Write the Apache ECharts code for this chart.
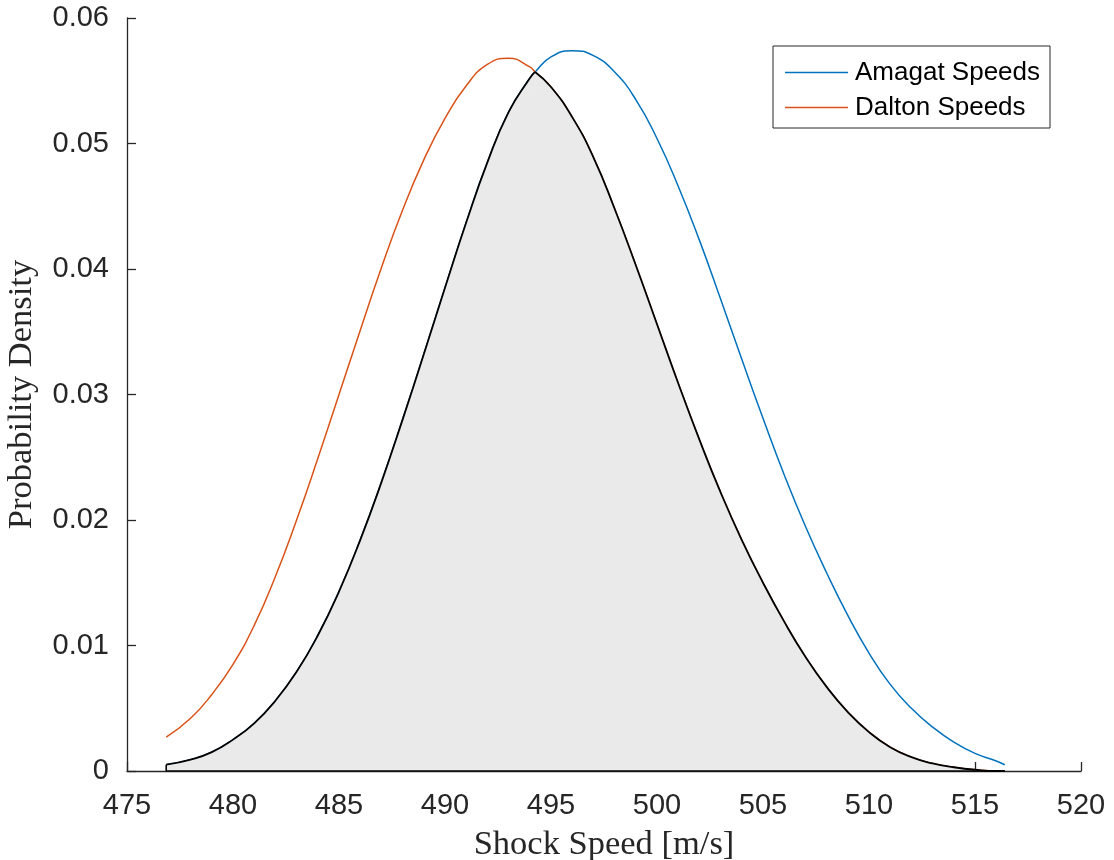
<!DOCTYPE html>
<html>
<head>
<meta charset="utf-8">
<title>Shock Speed Distributions</title>
<script src="https://cdn.jsdelivr.net/npm/echarts/dist/echarts.min.js"></script>
<style>
  html, body { margin: 0; padding: 0; background: #ffffff; }
  #chart { width: 1114px; height: 860px; }
</style>
</head>
<body>
<div id="chart"></div>
<script>
// Shock speed grid [m/s]
const speeds = [476.85, 478, 479, 480, 481, 482, 483, 484, 485, 486, 487, 488, 489, 490,
  491, 492, 493, 494, 494.25, 495, 496, 497, 498, 499, 500, 501, 502, 503, 504, 505,
  506, 507, 508, 509, 510, 511, 512, 513, 514, 515, 516, 516.4];

// Probability density of the Amagat-model shock speeds
const amagat = [0.0005, 0.0009, 0.0015, 0.0025, 0.0038, 0.0056, 0.0079, 0.0108, 0.0143,
  0.0184, 0.0230, 0.0280, 0.0332, 0.0385, 0.0437, 0.0485, 0.0525, 0.0552, 0.0557,
  0.0569, 0.0574, 0.0570, 0.0557, 0.0535, 0.0504, 0.0466, 0.0423, 0.0376, 0.0328,
  0.0281, 0.0236, 0.0195, 0.0158, 0.0124, 0.0094, 0.0069, 0.0050, 0.0035, 0.0023,
  0.0014, 0.0008, 0.0005];

// Probability density of the Dalton-model shock speeds
const dalton = [0.0027, 0.0042, 0.0061, 0.0085, 0.0116, 0.0155, 0.0200, 0.0249, 0.0300,
  0.0351, 0.0401, 0.0447, 0.0487, 0.0520, 0.0546, 0.0563, 0.0568, 0.0561, 0.0557,
  0.0545, 0.0521, 0.0489, 0.0448, 0.0403, 0.0356, 0.0309, 0.0264, 0.0222, 0.0184,
  0.0150, 0.0119, 0.0091, 0.0067, 0.0047, 0.0031, 0.0019, 0.0011, 0.0006, 0.0003,
  0.0001, 0.0000, 0.0000];

const seriesNames = ['Amagat Speeds', 'Dalton Speeds'];
const xTicks = [475, 480, 485, 490, 495, 500, 505, 510, 515, 520];
const yTicks = [0, 0.01, 0.02, 0.03, 0.04, 0.05, 0.06];

// Overlap of the two densities (pointwise minimum), split where the curves cross
const overlap = speeds.map((x, i) => [x, Math.min(amagat[i], dalton[i])]);
let cross = speeds.findIndex((x, i) => i > 0 && dalton[i] <= amagat[i]);
if (cross < 0) cross = speeds.length - 1;
const overlapLeft = overlap.slice(0, cross + 1);
const overlapRight = overlap.slice(cross);
const first = speeds[0], last = speeds[speeds.length - 1];
const overlapEdge = [[first, overlap[0][1]], [first, 0], [last, 0]];
const seam = [[speeds[cross], 0], [speeds[cross], overlap[cross][1] * 0.97]];

const pairs = arr => speeds.map((x, i) => [x, arr[i]]);

const AXIS = '#262626';
const FILL = '#EAEAEA';
const SANS = '"Liberation Sans", Arial, Helvetica, sans-serif';
const SERIF = '"Liberation Serif", "Times New Roman", serif';

const chart = echarts.init(document.getElementById('chart'), null, { renderer: 'canvas' });

const base = {
  type: 'line',
  smooth: 0.5,
  showSymbol: false,
  symbol: 'none',
  silent: true
};

// grey fill of the overlap region (no outline)
const fillSeries = data => Object.assign({}, base, {
  data: data,
  z: 3,
  lineStyle: { width: 0, opacity: 0 },
  areaStyle: { color: FILL, opacity: 1, origin: 'start' }
});

// black outline of the overlap region
const outlineSeries = data => Object.assign({}, base, {
  data: data,
  z: 5,
  lineStyle: { color: '#000000', width: 1.8 }
});

chart.setOption({
  animation: false,
  backgroundColor: '#ffffff',
  grid: { left: 127, right: 33, top: 18, bottom: 89, containLabel: false, outerBoundsMode: 'none' },
  xAxis: {
    type: 'value',
    min: xTicks[0],
    max: xTicks[xTicks.length - 1],
    interval: 5,
    name: 'Shock Speed [m/s]',
    nameLocation: 'middle',
    nameGap: 56,
    nameTextStyle: { fontFamily: SERIF, fontSize: 34.5, color: AXIS },
    axisLine: { show: true, onZero: false, lineStyle: { color: AXIS, width: 1.3 } },
    axisTick: { show: true, inside: true, length: 9, lineStyle: { color: AXIS, width: 1.3 } },
    axisLabel: { fontFamily: SANS, fontSize: 29, color: AXIS, margin: 20 },
    splitLine: { show: false }
  },
  yAxis: {
    type: 'value',
    min: yTicks[0],
    max: yTicks[yTicks.length - 1],
    interval: 0.01,
    name: 'Probability Density',
    nameLocation: 'middle',
    nameRotate: 90,
    nameGap: 88,
    nameTextStyle: { fontFamily: SERIF, fontSize: 34.5, color: AXIS },
    axisLine: { show: true, lineStyle: { color: AXIS, width: 1.3 } },
    axisTick: { show: true, inside: true, length: 9, lineStyle: { color: AXIS, width: 1.3 } },
    axisLabel: {
      fontFamily: SANS, fontSize: 29, color: AXIS, margin: 18,
      formatter: v => (v === 0 ? '0' : v.toFixed(2))
    },
    splitLine: { show: false }
  },
  legend: {
    orient: 'vertical',
    left: 773,
    top: 46,
    data: seriesNames,
    icon: 'rect',
    itemWidth: 63,
    itemHeight: 1.6,
    itemGap: 6,
    padding: [12, 10, 6, 12],
    backgroundColor: '#ffffff',
    borderColor: AXIS,
    borderWidth: 1,
    borderRadius: 0,
    textStyle: { fontFamily: SANS, fontSize: 26, color: '#000000', lineHeight: 29, padding: [0, 0, 0, 2] }
  },
  series: [
    Object.assign({}, base, {
      name: seriesNames[0],
      data: pairs(amagat),
      silent: false,
      z: 2,
      color: '#0072BD',
      lineStyle: { color: '#0072BD', width: 1.5 }
    }),
    Object.assign({}, base, {
      name: seriesNames[1],
      data: pairs(dalton),
      silent: false,
      z: 2,
      color: '#D95319',
      lineStyle: { color: '#D95319', width: 1.5 }
    }),
    fillSeries(overlapLeft),
    fillSeries(overlapRight),
    Object.assign({}, base, {
      data: seam,
      smooth: false,
      z: 4,
      lineStyle: { color: FILL, width: 2 }
    }),
    outlineSeries(overlapLeft),
    outlineSeries(overlapRight),
    Object.assign({}, base, {
      data: overlapEdge,
      smooth: false,
      z: 5,
      lineStyle: { color: '#000000', width: 1.6 }
    })
  ]
});
</script>
</body>
</html>
